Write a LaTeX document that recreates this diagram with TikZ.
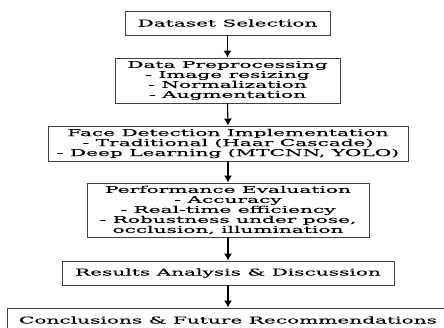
\documentclass[tikz,border=0pt]{standalone}
\usepackage{fontspec}
\setmainfont[FakeStretch=2.14,FakeBold=0.3]{DejaVu Serif}
\usetikzlibrary{arrows.meta}

\begin{document}
\begin{tikzpicture}[x=1pt,y=-1pt,font=\fontsize{9.4}{10}\selectfont,
  stage/.style={draw=black!75,line width=0.9pt,align=center,inner sep=0pt},
  flow/.style={-{Latex[length=7pt,width=8pt]},line width=1.1pt}]
\useasboundingbox (0,0) rectangle (444,328);
\clip (0,0) rectangle (444,328);
% stages of the study
\node[stage,minimum width=205,minimum height=24] (sel) at (227.5,23) {Dataset Selection};
\node[stage,minimum width=225,minimum height=45] (prep) at (227.5,80.5)
  {Data Preprocessing\\ - Image resizing\\ - Normalization\\ - Augmentation};
\node[stage,minimum width=360,minimum height=35] (det) at (228,143.5)
  {Face Detection Implementation\\ - Traditional (Haar Cascade)\\ - Deep Learning (MTCNN, YOLO)};
\node[stage,minimum width=282,minimum height=54] (eval) at (228,210)
  {Performance Evaluation\\ - Accuracy\\ - Real-time efficiency\\ - Robustness under pose,\\ occlusion, illumination};
\node[stage,minimum width=332,minimum height=24] (res) at (228,273) {Results Analysis \& Discussion};
\node[stage,minimum width=442,minimum height=24] (conc) at (228,320) {Conclusions \& Future Recommendations};
% arrows between stages
\foreach \a/\b in {sel/prep,prep/det,det/eval,eval/res,res/conc}
  \draw[flow] (\a.south) -- (\b.north);
\end{tikzpicture}
\end{document}
